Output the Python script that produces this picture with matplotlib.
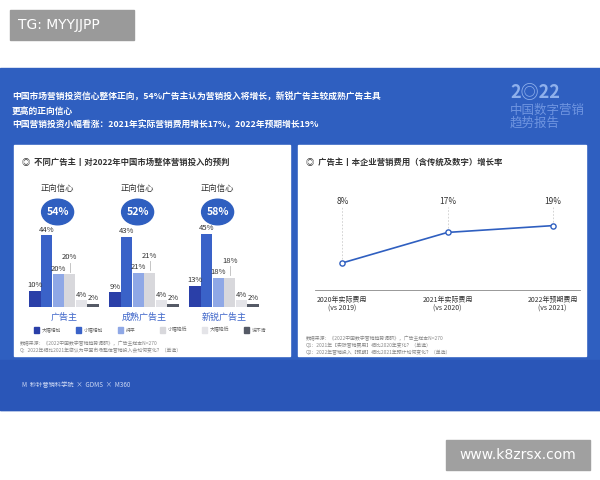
import matplotlib
matplotlib.use("Agg")
import matplotlib.pyplot as plt
from matplotlib.patches import Rectangle, Circle
import numpy as np

plt.rcParams['font.family'] = ['Noto Sans CJK SC', 'DejaVu Sans']

groups = ['广告主', '成熟广告主', '新锐广告主']
confidence = ['54%', '52%', '58%']
series = ['大幅增加', '小幅增加', '持平', '小幅降低', '大幅降低', '说不清']
values = [[10, 44, 20, 20, 4, 2],
          [9, 43, 21, 21, 4, 2],
          [13, 45, 18, 18, 4, 2]]
colors = ['#2a3fa8', '#3a62c8', '#8fa8e6', '#d8d8dc', '#e4e4e8', '#555a66']

years = ['2020年实际费用\n(vs 2019)', '2021年实际费用\n(vs 2020)', '2022年预期费用\n(vs 2021)']
growth = [8, 17, 19]

W, H = 600, 480
fig = plt.figure(figsize=(6, 4.8), dpi=100)
fig.patch.set_facecolor('white')

def fx(x): return x / W
def fy(y): return 1 - y / H

def rect(x0, y0, x1, y1, **kw):
    fig.patches.append(Rectangle((fx(x0), fy(y1)), fx(x1 - x0), (y1 - y0) / H,
                                 transform=fig.transFigure, **kw))

# backgrounds
rect(0, 68, 600, 410, color='#2f5fc0', zorder=0)
rect(0, 360, 600, 410, color='#2a56b8', zorder=0)
rect(14, 145, 290, 356, color='white', zorder=1)
rect(298, 145, 586, 356, color='white', zorder=1)
rect(10, 10, 134, 40, color='#9a9a9a', zorder=1)
fig.text(fx(18), fy(25), 'TG: MYYJJPP', color='white', fontsize=10, va='center', family=['DejaVu Sans'])
rect(446, 440, 590, 470, color='#a0a0a0', zorder=1)
fig.text(fx(518), fy(455), 'www.k8zrsx.com', color='white', fontsize=10, va='center', ha='center', family=['DejaVu Sans'])

# header text
fig.text(fx(12), fy(97), '中国市场营销投资信心整体正向，54%广告主认为营销投入将增长，新锐广告主较成熟广告主具',
         color='white', fontsize=6.3, weight='bold', va='center')
fig.text(fx(12), fy(111), '更高的正向信心', color='white', fontsize=6.3, weight='bold', va='center')
fig.text(fx(12), fy(125), '中国营销投资小幅看涨：2021年实际营销费用增长17%，2022年预期增长19%',
         color='white', fontsize=6.3, weight='bold', va='center')
fig.text(fx(510), fy(92), '2◎22', color='#8fb0ec', fontsize=13, weight='bold', va='center')
fig.text(fx(510), fy(110), '中国数字营销', color='#6f95e0', fontsize=9, va='center')
fig.text(fx(510), fy(123), '趋势报告', color='#6f95e0', fontsize=9, va='center')

# panel titles
fig.text(fx(22), fy(162), '◎  不同广告主丨对2022年中国市场整体营销投入的预判', fontsize=6, weight='bold', color='#333', va='center', zorder=3)
fig.text(fx(306), fy(162), '◎  广告主丨本企业营销费用（含传统及数字）增长率', fontsize=6, weight='bold', color='#333', va='center', zorder=3)

# left chart
AX0, AX1 = 24, 264
ax = fig.add_axes([fx(AX0), fy(307), fx(AX1 - AX0), (307 - 232) / H], zorder=3)
ax.set_facecolor('none')
bw = 0.145
n = len(series)
for g, vals in enumerate(values):
    for i, v in enumerate(vals):
        x = g + (i - (n - 1) / 2) * bw
        ax.bar(x, v, bw * 0.95, color=colors[i])
        dy = 8 if i == 3 else 1
        ax.text(x, v + dy, f'{v}%', ha='center', va='bottom', fontsize=5.5, color='#333', clip_on=False)
        if i == 3:
            ax.plot([x, x], [v + 1.5, v + 7], color='#bbb', lw=0.6, clip_on=False)
ax.set_xlim(-0.5, 2.5)
ax.set_ylim(0, 46)
ax.set_xticks(range(3))
ax.set_xticklabels(groups, fontsize=6.5, color='#3a62c8')
ax.tick_params(length=0, pad=4)
ax.set_yticks([])
for s in ax.spines.values():
    s.set_visible(False)

for g, c in enumerate(confidence):
    cx = AX0 + (AX1 - AX0) * (g + 0.5 - 0.08) / 3
    fig.text(fx(cx), fy(188), '正向信心', ha='center', va='center', fontsize=6, color='#333', zorder=3)
    fig.patches.append(Circle((fx(cx), fy(212)), 16 / W, transform=fig.transFigure,
                              color='#2f5fc0', zorder=4))
    fig.text(fx(cx), fy(212), c, color='white', fontsize=7.5, weight='bold', ha='center', va='center', zorder=5)

# legend
for i, s in enumerate(series):
    x0 = 34 + i * 42
    rect(x0, 327, x0 + 5, 333, color=colors[i], zorder=3)
    fig.text(fx(x0 + 8), fy(330), s, fontsize=3.5, color='#666', va='center', zorder=3)
fig.text(fx(20), fy(345), '数据来源：《2022中国数字营销趋势调研》，广告主样本N=270', fontsize=3.5, color='#888', zorder=3)
fig.text(fx(20), fy(352), 'Q：2022年相比2021年您认为中国市场整体营销投入会如何变化？（单选）', fontsize=3.5, color='#888', zorder=3)

# right chart
ax2 = fig.add_axes([fx(315), fy(290), fx(265), (290 - 185) / H], zorder=3)
ax2.set_facecolor('none')
xs = np.arange(3)
ax2.plot(xs, growth, color='#2f5fc0', lw=1.2)
ax2.scatter(xs, growth, s=14, facecolor='white', edgecolor='#2f5fc0', lw=1, zorder=5)
for x, g in zip(xs, growth):
    ax2.plot([x, x], [g + 1.2, 24.5], color='#ccc', lw=0.6, ls=(0, (2, 2)))
    ax2.text(x, 26, f'{g}%', ha='center', va='center', fontsize=6, color='#333')
ax2.set_xlim(-0.26, 2.26)
ax2.set_ylim(0, 31)
ax2.set_xticks(xs)
ax2.set_xticklabels(years, fontsize=5, color='#333')
ax2.tick_params(length=0, pad=4)
ax2.set_yticks([])
for k, s in ax2.spines.items():
    s.set_visible(k == 'bottom')
ax2.spines['bottom'].set_color('#888')
ax2.spines['bottom'].set_linewidth(0.6)
fig.text(fx(306), fy(340), '数据来源：《2022中国数字营销趋势调研》，广告主样本N=270', fontsize=3.5, color='#888', zorder=3)
fig.text(fx(306), fy(347), 'Q1：2021年【实际营销费用】相比2020年变化？（单选）', fontsize=3.5, color='#888', zorder=3)
fig.text(fx(306), fy(354), 'Q2：2022年营销投入【预期】相比2021年预计如何变化？（单选）', fontsize=3.5, color='#888', zorder=3)

# footer logos
fig.text(fx(22), fy(385), 'M  秒针营销科学院  ×  GDMS  ×  M360', fontsize=4.5, color='#cfdaf5', va='center')

fig.savefig('out.png', dpi=100, facecolor='white')
